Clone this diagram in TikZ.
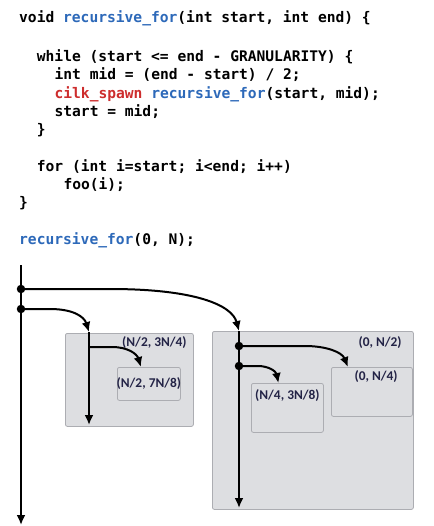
\documentclass[tikz,border=0pt]{standalone}
\usepackage{fontspec}
\usepackage{xcolor}
\usepackage{tikz}
\usetikzlibrary{arrows.meta}
\newfontfamily\codefont{DejaVu Sans Mono}
\newfontfamily\lblfont{Carlito}
\definecolor{codeblue}{RGB}{45,105,185}
\definecolor{spawnred}{RGB}{205,45,45}
\definecolor{boxgray}{RGB}{221,222,225}
\definecolor{boxline}{RGB}{172,173,178}
\definecolor{lblnavy}{RGB}{35,35,70}

\begin{document}
\begin{tikzpicture}[x=1pt, y=-1pt, >={Latex[length=10pt,width=9pt]}]
\tikzset{
  code/.style = {anchor=base west, inner sep=0pt, font=\codefont\bfseries\fontsize{14.6}{16}\selectfont},
  region/.style = {rectangle, draw=boxline, fill=boxgray, rounded corners=2pt, anchor=north west, line width=0.8pt},
  lbl/.style = {inner sep=0pt, text=lblnavy, font=\lblfont\bfseries\fontsize{13.4}{15}\selectfont},
  dot/.style = {circle, fill, inner sep=0pt, minimum size=8.5pt},
  spine/.style = {draw, line width=2pt, ->},
  thread/.style = {draw, line width=2.8pt, ->},
  spawn/.style = {draw, line width=2pt, ->}
}
\useasboundingbox (0,0) rectangle (433,526);
% code
\node [code] (c1) at (19,23) {void \textcolor{codeblue}{recursive\_for}(int start, int end) \{};
\node [code] (c2) at (36.7,61.5) {while (start <= end - GRANULARITY) \{};
\node [code] (c3) at (54.4,79.8) {int mid = (end - start) / 2;};
\node [code] (c4) at (54.4,98.1) {\textcolor{spawnred}{cilk\_spawn} \textcolor{codeblue}{recursive\_for}(start, mid);};
\node [code] (c5) at (54.4,116.4) {start = mid;};
\node [code] (c6) at (36.7,134.7) {\}};
\node [code] (c7) at (36.7,171.3) {for (int i=start; i<end; i++)};
\node [code] (c8) at (63.3,189.6) {foo(i);};
\node [code] (c9) at (19,207.9) {\}};
\node [code] (c10) at (19,244.5) {\textcolor{codeblue}{recursive\_for}(0, N);};

% regions
\node [region, minimum width=128pt, minimum height=93pt] (rA) at (65,333) {};
\node [region, minimum width=63pt, minimum height=33pt] (rA2) at (117,367) {};
\node [region, minimum width=201pt, minimum height=178pt] (rB) at (212,331) {};
\node [region, minimum width=81pt, minimum height=49pt] (rB1) at (331,367) {};
\node [region, minimum width=72pt, minimum height=49pt] (rB2) at (251,383) {};

% labels
\node [lbl, anchor=east] (lA) at ([xshift=-7pt,yshift=-10pt]rA.north east) {(N/2, 3N/4)};
\node [lbl] (lA2) at (rA2.center) {(N/2, 7N/8)};
\node [lbl, anchor=east] (lB) at ([xshift=-12pt,yshift=-12pt]rB.north east) {(0, N/2)};
\node [lbl, anchor=east] (lB1) at ([xshift=-15pt,yshift=-10pt]rB1.north east) {(0, N/4)};
\node [lbl, anchor=north] (lB2) at ([yshift=-6pt]rB2.north) {(N/4, 3N/8)};

% threads
\coordinate (top) at (21,265);
\coordinate (bot) at (21,525);
\node [dot] (d1) at (21,289) {};
\node [dot] (d2) at (21,309) {};
\coordinate (inA) at (89,332);
\coordinate (outA) at (89,425);
\coordinate (fA) at (89,347);
\coordinate (inB) at (239,331);
\coordinate (outB) at (239,508);
\node [dot] (dB1) at (239,346) {};
\node [dot] (dB2) at (239,366) {};

\path [spine] (top) -- (bot);
\path [thread] (inA) -- (outA);
\path [thread] (inB) -- (outB);
\path [spawn] (d1.center) -- (110,289) .. controls (195,289) and (232,305) .. (inB);
\path [spawn] (d2.center) -- (50,309) .. controls (72,309) and (84,316) .. (inA);
\path [spawn] (fA) -- (112,347) .. controls (128,347) and (137,354) .. ([xshift=-8pt]rA2.north);
\path [spawn] (dB1.center) -- (305,346) .. controls (326,346) and (342,352) .. ([xshift=-24pt]rB1.north);
\path [spawn] (dB2.center) -- (258,366) .. controls (268,366) and (276,371) .. ([xshift=-9pt]rB2.north);
\end{tikzpicture}
\end{document}
